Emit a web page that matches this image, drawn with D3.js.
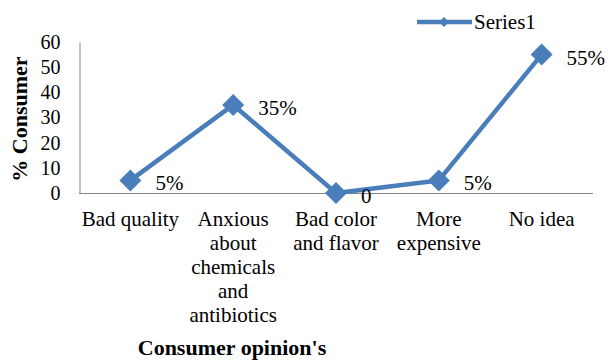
<!DOCTYPE html>
<html>
<head>
<meta charset="utf-8">
<script src="https://cdn.jsdelivr.net/npm/d3@7"></script>
<style>
  html, body { margin: 0; padding: 0; background: #ffffff; }
  svg { display: block; font-family: "Liberation Serif", "Times New Roman", serif; }
</style>
</head>
<body>
<svg id="chart" width="608" height="363"></svg>
<script>
// Survey responses: share of consumers per opinion
const categories = [
  "Bad quality",
  "Anxious\nabout\nchemicals\nand\nantibiotics",
  "Bad color\nand flavor",
  "More\nexpensive",
  "No idea"
];
const series1 = [5, 35, 0, 5, 55];
const yTicks = [0, 10, 20, 30, 40, 50, 60];
const seriesName = "Series1";
const xTitle = "Consumer opinion's";
const yTitle = "% Consumer";

const blue = "#4a7ebb";
const axisGrey = "#868686";

const svg = d3.select("#chart");
const plot = { left: 79, right: 593, top: 42, bottom: 193 };

const x = d3.scaleBand().domain(categories).range([plot.left, plot.right]);
const cx = c => x(c) + x.bandwidth() / 2;
const y = d3.scaleLinear().domain([0, 60]).range([plot.bottom, plot.top]);

// Y axis
const yAxis = svg.append("g")
  .attr("transform", `translate(${plot.left + 0.5},0)`)
  .call(d3.axisLeft(y).tickValues(yTicks).tickSize(0).tickSizeOuter(0).tickPadding(19));
yAxis.select(".domain").attr("stroke", axisGrey);
yAxis.selectAll("text")
  .attr("font-family", "Liberation Serif")
  .attr("font-size", 20)
  .attr("fill", "#000");

// X axis with wrapped category labels
const xAxis = svg.append("g")
  .attr("transform", `translate(0,${plot.bottom + 0.5})`)
  .call(d3.axisBottom(x).tickSize(0).tickSizeOuter(0).tickFormat(""));
xAxis.select(".domain").attr("stroke", axisGrey).attr("d", `M${plot.left},0H${plot.right}`);
xAxis.selectAll(".tick").each(function (c) {
  const t = d3.select(this).select("text")
    .attr("font-family", "Liberation Serif")
    .attr("font-size", 21)
    .attr("fill", "#000")
    .attr("text-anchor", "middle")
    .attr("y", 0)
    .attr("dy", null);
  c.split("\n").forEach((line, i) => {
    t.append("tspan").attr("x", 0).attr("y", 32.5 + i * 24).text(line);
  });
});

// Axis titles
svg.append("text")
  .attr("transform", `translate(27,119) rotate(-90)`)
  .attr("text-anchor", "middle")
  .attr("font-size", 22)
  .attr("font-weight", "bold")
  .text(yTitle);

svg.append("text")
  .attr("x", 232)
  .attr("y", 355)
  .attr("text-anchor", "middle")
  .attr("font-size", 22)
  .attr("font-weight", "bold")
  .text(xTitle);

// Series line
const points = categories.map((c, i) => ({ c, v: series1[i] }));
svg.append("path")
  .datum(points)
  .attr("fill", "none")
  .attr("stroke", blue)
  .attr("stroke-width", 4.5)
  .attr("stroke-linejoin", "round")
  .attr("d", d3.line().x(d => cx(d.c)).y(d => y(d.v)));

// Diamond markers
const diamond = r => `M0,${-r}L${r},0L0,${r}L${-r},0Z`;
svg.selectAll(".marker")
  .data(points)
  .join("path")
  .attr("class", "marker")
  .attr("transform", d => `translate(${cx(d.c)},${y(d.v)})`)
  .attr("d", diamond(11))
  .attr("fill", blue);

// Data labels
svg.selectAll(".dlabel")
  .data(points)
  .join("text")
  .attr("class", "dlabel")
  .attr("x", d => cx(d.c) + 25)
  .attr("y", d => y(d.v) + 10)
  .attr("font-size", 21)
  .text(d => d.v === 0 ? "0" : d.v + "%");

// Legend
const legend = svg.append("g").attr("transform", "translate(417,22)");
legend.append("line")
  .attr("x1", 0).attr("x2", 55)
  .attr("stroke", blue).attr("stroke-width", 4.5);
legend.append("path")
  .attr("transform", "translate(27,0)")
  .attr("d", diamond(5))
  .attr("fill", blue);
legend.append("text")
  .attr("x", 57).attr("y", 7)
  .attr("font-size", 21)
  .text(seriesName);
</script>
</body>
</html>
